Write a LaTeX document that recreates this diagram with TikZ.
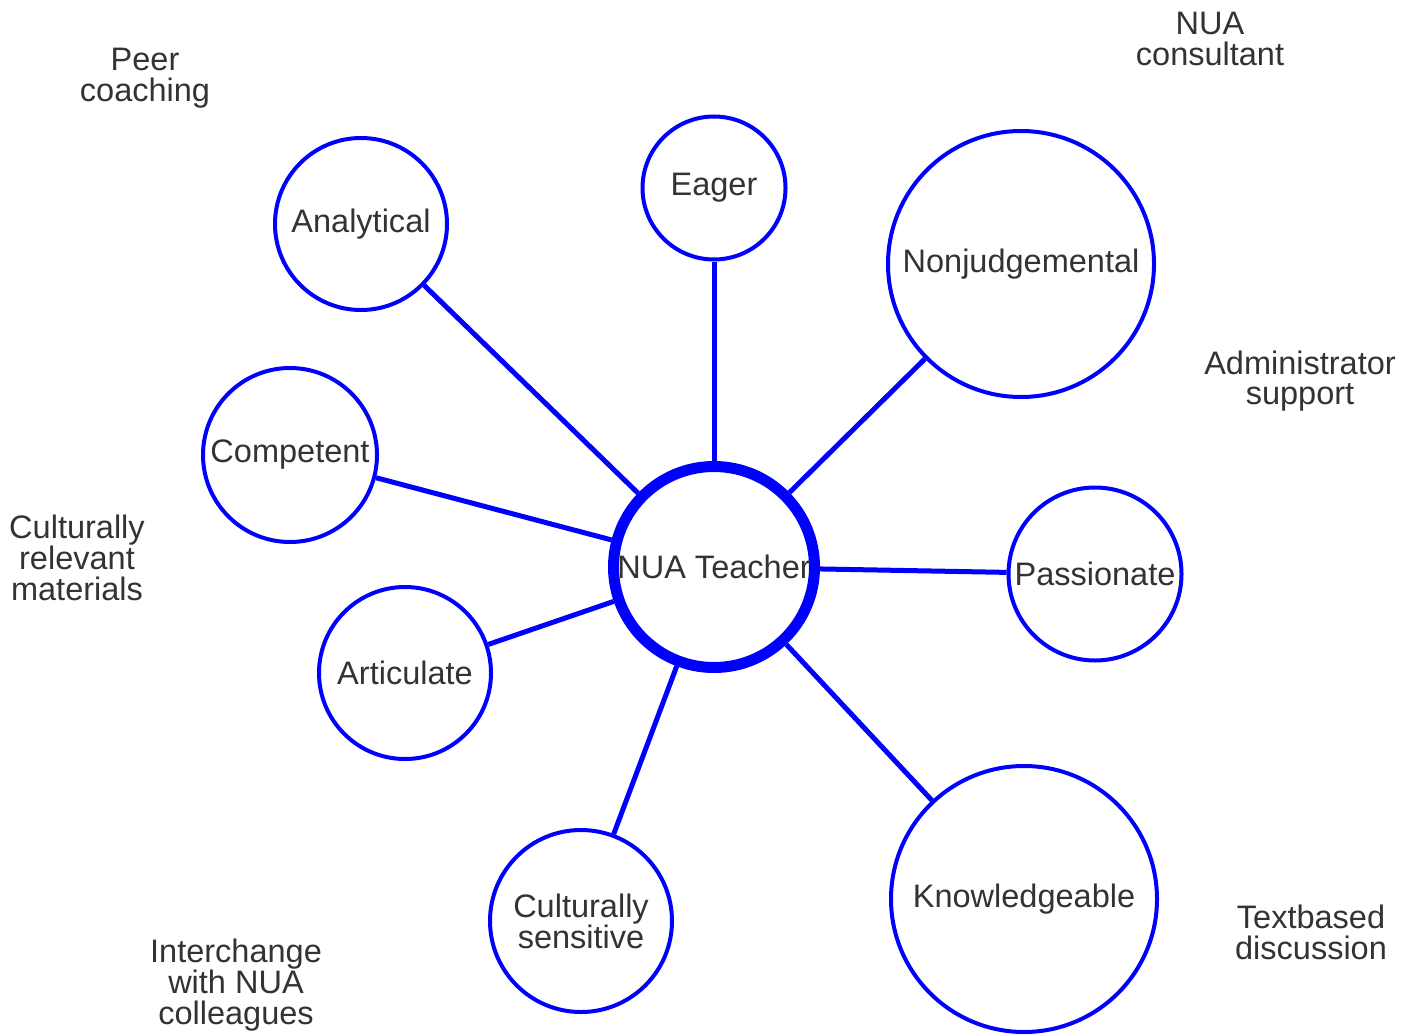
\documentclass[tikz,border=0pt]{standalone}
\usepackage{fontspec}
\setmainfont{Liberation Sans}
\usetikzlibrary{positioning}
\definecolor{mapblue}{RGB}{0,0,255}
\definecolor{notegray}{RGB}{51,51,51}
\newcommand{\mapfont}{\fontsize{18.5}{17.5}\selectfont}

\begin{document}
\begin{tikzpicture}[trait/.style={circle, draw=mapblue, line width=0.08cm,
                        inner sep=0pt, text=notegray, align=center, font=\mapfont},
                    hub/.style={trait, line width=0.22cm},
                    link/.style={draw=mapblue, line width=0.1cm},
                    note/.style={text=notegray, align=center, font=\mapfont}]
    \useasboundingbox (0,-20.7) rectangle (28.04,0);

    \node[hub, minimum size=4.02cm] (t) at (14.28,-11.34) {NUA Teacher};

    \node[trait, minimum size=3.44cm] (an) at (7.22,-4.48) {Analytical};
    \node[trait, minimum size=2.86cm] (ea) at (14.28,-3.76) {Eager};
    \node[trait, minimum size=5.32cm] (no) at (20.42,-5.28) {Nonjudgemental};
    \node[trait, minimum size=3.48cm] (co) at (5.80,-9.10) {Competent};
    \node[trait, minimum size=3.46cm] (pa) at (21.90,-11.48) {Passionate};
    \node[trait, minimum size=3.44cm] (ar) at (8.10,-13.46) {Articulate};
    \node[trait, minimum size=3.64cm] (cs) at (11.62,-18.42) {Culturally\\sensitive};
    \node[trait, minimum size=5.32cm] (kn) at (20.48,-17.98) {Knowledgeable};

    \node[note] (peer) at (2.90,-1.56) {Peer\\coaching};
    \node[note] (cons) at (24.20,-0.78) {NUA\\consultant};
    \node[note] (adm) at (26.00,-7.62) {Administrator\\support};
    \node[note] (mat) at (1.54,-11.16) {Culturally\\relevant\\materials};
    \node[note] (txt) at (26.22,-18.64) {Textbased\\discussion};
    \node[note] (col) at (4.72,-19.70) {Interchange\\with NUA\\colleagues};

    \foreach \n in {an, ea, no, co, pa, ar, cs, kn}
        \draw[link] (t) -- (\n);
\end{tikzpicture}
\end{document}
